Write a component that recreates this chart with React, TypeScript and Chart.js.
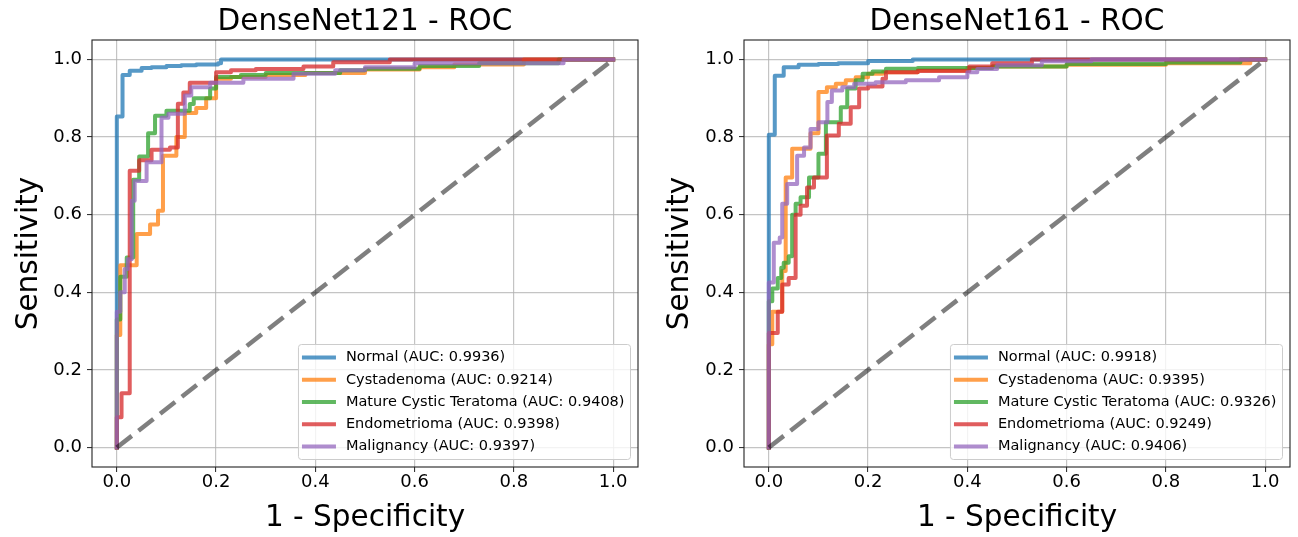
import React, { useEffect, useRef } from "react";
import { Chart, registerables } from "chart.js";

Chart.register(...registerables);

const FONT = '"DejaVu Sans", "Liberation Sans", sans-serif';

const CLASS_NAMES = ["Normal", "Cystadenoma", "Mature Cystic Teratoma", "Endometrioma", "Malignancy"];
const LINE_COLORS = [
  "rgba(31,119,180,0.75)",
  "rgba(255,127,14,0.75)",
  "rgba(44,160,44,0.75)",
  "rgba(214,39,40,0.75)",
  "rgba(148,103,189,0.75)",
];
const X_TICKS = [0, 0.2, 0.4, 0.6, 0.8, 1.0];
const Y_TICKS = [0, 0.2, 0.4, 0.6, 0.8, 1.0];
const DIAG_X = [0, 1];
const DIAG_Y = [0, 1];

// ---------- DenseNet121 ----------
const AUC_121 = ["0.9936", "0.9214", "0.9408", "0.9398", "0.9397"];
const NORMAL_121_FPR = [0, 0, 0.0115, 0.026, 0.05, 0.07, 0.1, 0.13, 0.16, 0.204, 0.21, 1.0];
const NORMAL_121_TPR = [0, 0.853, 0.96, 0.971, 0.978, 0.98, 0.983, 0.985, 0.987, 0.99, 1.0, 1.0];
const CYST_121_FPR = [0, 0, 0.007, 0.04, 0.067, 0.083, 0.093, 0.12, 0.137, 0.16, 0.18, 0.2, 0.23, 0.3, 0.38, 0.5, 0.61, 0.68, 0.82, 1.0];
const CYST_121_TPR = [0, 0.29, 0.47, 0.55, 0.575, 0.61, 0.752, 0.8, 0.862, 0.875, 0.9, 0.95, 0.955, 0.96, 0.965, 0.974, 0.98, 0.987, 1.0, 1.0];
const MCT_121_FPR = [0, 0, 0.007, 0.02, 0.033, 0.045, 0.063, 0.077, 0.1, 0.147, 0.155, 0.188, 0.2, 0.25, 0.3, 0.45, 0.5, 0.61, 0.73, 0.89, 1.0];
const MCT_121_TPR = [0, 0.33, 0.44, 0.49, 0.69, 0.75, 0.81, 0.855, 0.868, 0.885, 0.9, 0.925, 0.955, 0.96, 0.965, 0.972, 0.976, 0.983, 0.99, 1.0, 1.0];
const ENDO_121_FPR = [0, 0, 0.0095, 0.026, 0.045, 0.07, 0.107, 0.123, 0.134, 0.147, 0.2, 0.23, 0.28, 0.376, 0.436, 0.55, 1.0];
const ENDO_121_TPR = [0, 0.078, 0.14, 0.713, 0.74, 0.767, 0.773, 0.886, 0.915, 0.94, 0.967, 0.972, 0.975, 0.982, 0.993, 1.0, 1.0];
const MAL_121_FPR = [0, 0, 0.007, 0.016, 0.022, 0.03, 0.036, 0.06, 0.09, 0.104, 0.137, 0.15, 0.188, 0.255, 0.356, 0.44, 0.5, 0.6, 0.9, 1.0];
const MAL_121_TPR = [0, 0.35, 0.4, 0.46, 0.485, 0.636, 0.687, 0.735, 0.85, 0.86, 0.907, 0.928, 0.94, 0.95, 0.963, 0.972, 0.98, 0.99, 1.0, 1.0];

// ---------- DenseNet161 ----------
const AUC_161 = ["0.9918", "0.9395", "0.9326", "0.9249", "0.9406"];
const NORMAL_161_FPR = [0, 0, 0.012, 0.03, 0.06, 0.1, 0.14, 0.2, 0.29, 1.0];
const NORMAL_161_TPR = [0, 0.806, 0.958, 0.98, 0.986, 0.988, 0.99, 0.996, 1.0, 1.0];
const CYST_161_FPR = [0, 0, 0.007, 0.027, 0.034, 0.047, 0.084, 0.1, 0.117, 0.135, 0.155, 0.175, 0.2, 0.23, 0.3, 0.4, 0.45, 0.6, 0.8, 0.97, 1.0];
const CYST_161_TPR = [0, 0.266, 0.35, 0.455, 0.696, 0.77, 0.81, 0.916, 0.928, 0.937, 0.946, 0.954, 0.963, 0.967, 0.972, 0.978, 0.982, 0.986, 0.99, 1.0, 1.0];
const MCT_161_FPR = [0, 0, 0.007, 0.018, 0.025, 0.03, 0.04, 0.047, 0.054, 0.064, 0.081, 0.1, 0.115, 0.145, 0.158, 0.175, 0.189, 0.209, 0.236, 0.3, 0.45, 0.6, 0.8, 0.95, 1.0];
const MCT_161_TPR = [0, 0.377, 0.41, 0.437, 0.463, 0.476, 0.493, 0.6, 0.628, 0.645, 0.696, 0.757, 0.838, 0.877, 0.925, 0.946, 0.963, 0.969, 0.976, 0.978, 0.982, 0.988, 0.992, 1.0, 1.0];
const ENDO_161_FPR = [0, 0, 0.018, 0.027, 0.04, 0.054, 0.064, 0.077, 0.091, 0.117, 0.141, 0.165, 0.182, 0.2, 0.229, 0.236, 0.3, 0.404, 0.45, 0.53, 1.0];
const ENDO_161_TPR = [0, 0.295, 0.35, 0.42, 0.437, 0.6, 0.623, 0.67, 0.696, 0.804, 0.834, 0.877, 0.925, 0.93, 0.95, 0.967, 0.97, 0.982, 0.99, 1.0, 1.0];
const MAL_161_FPR = [0, 0, 0.01, 0.022, 0.027, 0.037, 0.057, 0.071, 0.084, 0.1, 0.118, 0.127, 0.148, 0.172, 0.215, 0.276, 0.343, 0.4, 0.42, 0.46, 0.55, 0.65, 1.0];
const MAL_161_TPR = [0, 0.425, 0.528, 0.541, 0.628, 0.679, 0.752, 0.773, 0.821, 0.838, 0.89, 0.92, 0.928, 0.937, 0.941, 0.946, 0.954, 0.967, 0.975, 0.985, 0.995, 1.0, 1.0];

const FPRS_121 = [NORMAL_121_FPR, CYST_121_FPR, MCT_121_FPR, ENDO_121_FPR, MAL_121_FPR];
const TPRS_121 = [NORMAL_121_TPR, CYST_121_TPR, MCT_121_TPR, ENDO_121_TPR, MAL_121_TPR];
const FPRS_161 = [NORMAL_161_FPR, CYST_161_FPR, MCT_161_FPR, ENDO_161_FPR, MAL_161_FPR];
const TPRS_161 = [NORMAL_161_TPR, CYST_161_TPR, MCT_161_TPR, ENDO_161_TPR, MAL_161_TPR];

const framePlugin = {
  id: "rocFrame",
  afterDatasetsDraw(chart: any) {
    const { ctx, chartArea: a } = chart;
    ctx.save();
    ctx.strokeStyle = "#222";
    ctx.lineWidth = 1.1;
    ctx.strokeRect(a.left, a.top, a.right - a.left, a.bottom - a.top);
    ctx.restore();
  },
};

const legendPlugin = {
  id: "rocLegend",
  afterDraw(chart: any) {
    const { ctx, chartArea: a } = chart;
    const items = chart.data.datasets.filter((d: any) => d.label);
    ctx.save();
    ctx.font = `14.5px ${FONT}`;
    const maxW = Math.max(...items.map((d: any) => ctx.measureText(d.label).width));
    const rowH = 22.25;
    const padT = 13;
    const lineW = 34;
    const padL = 3.5;
    const gap = 10;
    const padR = 6;
    const w = padL + lineW + gap + maxW + padR;
    const h = padT * 2 + rowH * (items.length - 1);
    const x0 = a.right - 7.5 - w;
    const y0 = a.bottom - 7.5 - h;
    ctx.beginPath();
    if (ctx.roundRect) ctx.roundRect(x0, y0, w, h, 3);
    else ctx.rect(x0, y0, w, h);
    ctx.fillStyle = "rgba(255,255,255,0.8)";
    ctx.fill();
    ctx.strokeStyle = "#cccccc";
    ctx.lineWidth = 1;
    ctx.stroke();
    items.forEach((d: any, i: number) => {
      const cy = y0 + padT + i * rowH;
      ctx.beginPath();
      ctx.moveTo(x0 + padL, cy);
      ctx.lineTo(x0 + padL + lineW, cy);
      ctx.strokeStyle = d.borderColor;
      ctx.lineWidth = 4;
      ctx.stroke();
      ctx.fillStyle = "#000";
      ctx.textBaseline = "middle";
      ctx.textAlign = "left";
      ctx.fillText(d.label, x0 + padL + lineW + gap, cy);
    });
    ctx.restore();
  },
};

type Props = {
  title: string;
  fprs: number[][];
  tprs: number[][];
  aucs: string[];
  left: number;
  yAxisWidth: number;
  padRight: number;
  yTitlePad: number;
};

function RocChart({ title, fprs, tprs, aucs, left, yAxisWidth, padRight, yTitlePad }: Props) {
  const ref = useRef<HTMLCanvasElement | null>(null);

  useEffect(() => {
    if (!ref.current) return;
    const datasets: any[] = CLASS_NAMES.map((name, i) => ({
      label: `${name} (AUC: ${aucs[i]})`,
      data: fprs[i].map((x, j) => ({ x, y: tprs[i][j] })),
      borderColor: LINE_COLORS[i],
      borderWidth: 4,
      pointRadius: 0,
      stepped: "before",
      fill: false,
      borderJoinStyle: "round",
      borderCapStyle: "square",
      order: 10 - i,
    }));
    datasets.push({
      data: DIAG_X.map((x, j) => ({ x, y: DIAG_Y[j] })),
      borderColor: "rgba(0,0,0,0.5)",
      borderWidth: 4.5,
      borderDash: [19, 8.5],
      pointRadius: 0,
      fill: false,
      order: 0,
    });

    const chart = new Chart(ref.current, {
      type: "line",
      data: { datasets },
      options: {
        responsive: false,
        animation: false,
        devicePixelRatio: 1,
        layout: { padding: { left: 0, right: padRight, top: 0, bottom: 0 } },
        plugins: {
          legend: { display: false },
          tooltip: { enabled: false },
          title: {
            display: true,
            text: title,
            fullSize: false,
            color: "#000",
            font: { family: FONT, size: 29.5, weight: "normal", lineHeight: 1.1 },
            padding: { top: 6, bottom: 1.55 },
          },
        },
        scales: {
          x: {
            type: "linear",
            min: -0.05,
            max: 1.05,
            afterBuildTicks: (s: any) => {
              s.ticks = X_TICKS.map((v) => ({ value: v }));
            },
            afterFit: (s: any) => {
              s.height = 70;
            },
            ticks: {
              color: "#000",
              font: { family: FONT, size: 18 },
              padding: 0,
              maxRotation: 0,
              autoSkip: false,
              callback: (v: any) => Number(v).toFixed(1),
            },
            grid: {
              color: "rgba(176,176,176,0.75)",
              lineWidth: 1.2,
              tickLength: 5,
              tickColor: "#222",
              tickWidth: 1,
            },
            border: { display: false },
            title: {
              display: true,
              text: "1 - Specificity",
              color: "#000",
              font: { family: FONT, size: 29.5 },
              padding: { top: 0, bottom: 1 },
            },
          },
          y: {
            type: "linear",
            min: -0.05,
            max: 1.05,
            afterBuildTicks: (s: any) => {
              s.ticks = Y_TICKS.map((v) => ({ value: v }));
            },
            afterFit: (s: any) => {
              s.width = yAxisWidth;
            },
            ticks: {
              color: "#000",
              font: { family: FONT, size: 18 },
              padding: 5,
              autoSkip: false,
              callback: (v: any) => Number(v).toFixed(1),
            },
            grid: {
              color: "rgba(176,176,176,0.75)",
              lineWidth: 1.2,
              tickLength: 5,
              tickColor: "#222",
              tickWidth: 1,
            },
            border: { display: false },
            title: {
              display: true,
              text: "Sensitivity",
              color: "#000",
              font: { family: FONT, size: 29.5 },
              padding: { top: yTitlePad, bottom: 0 },
            },
          },
        },
      } as any,
      plugins: [framePlugin, legendPlugin],
    });
    return () => chart.destroy();
  }, [title, fprs, tprs, aucs, yAxisWidth, padRight, yTitlePad]);

  return (
    <canvas
      ref={ref}
      width={649}
      height={537}
      style={{ position: "absolute", left, top: 0, width: 649, height: 537 }}
    />
  );
}

export default function App() {
  return (
    <div style={{ position: "fixed", left: 0, top: 0, width: 1298, height: 537, background: "#fff" }}>
      <RocChart
        title="DenseNet121 - ROC"
        fprs={FPRS_121}
        tprs={TPRS_121}
        aucs={AUC_121}
        left={0}
        yAxisWidth={92}
        padRight={11}
        yTitlePad={12}
      />
      <RocChart
        title="DenseNet161 - ROC"
        fprs={FPRS_161}
        tprs={TPRS_161}
        aucs={AUC_161}
        left={649}
        yAxisWidth={95}
        padRight={8}
        yTitlePad={14}
      />
    </div>
  );
}
